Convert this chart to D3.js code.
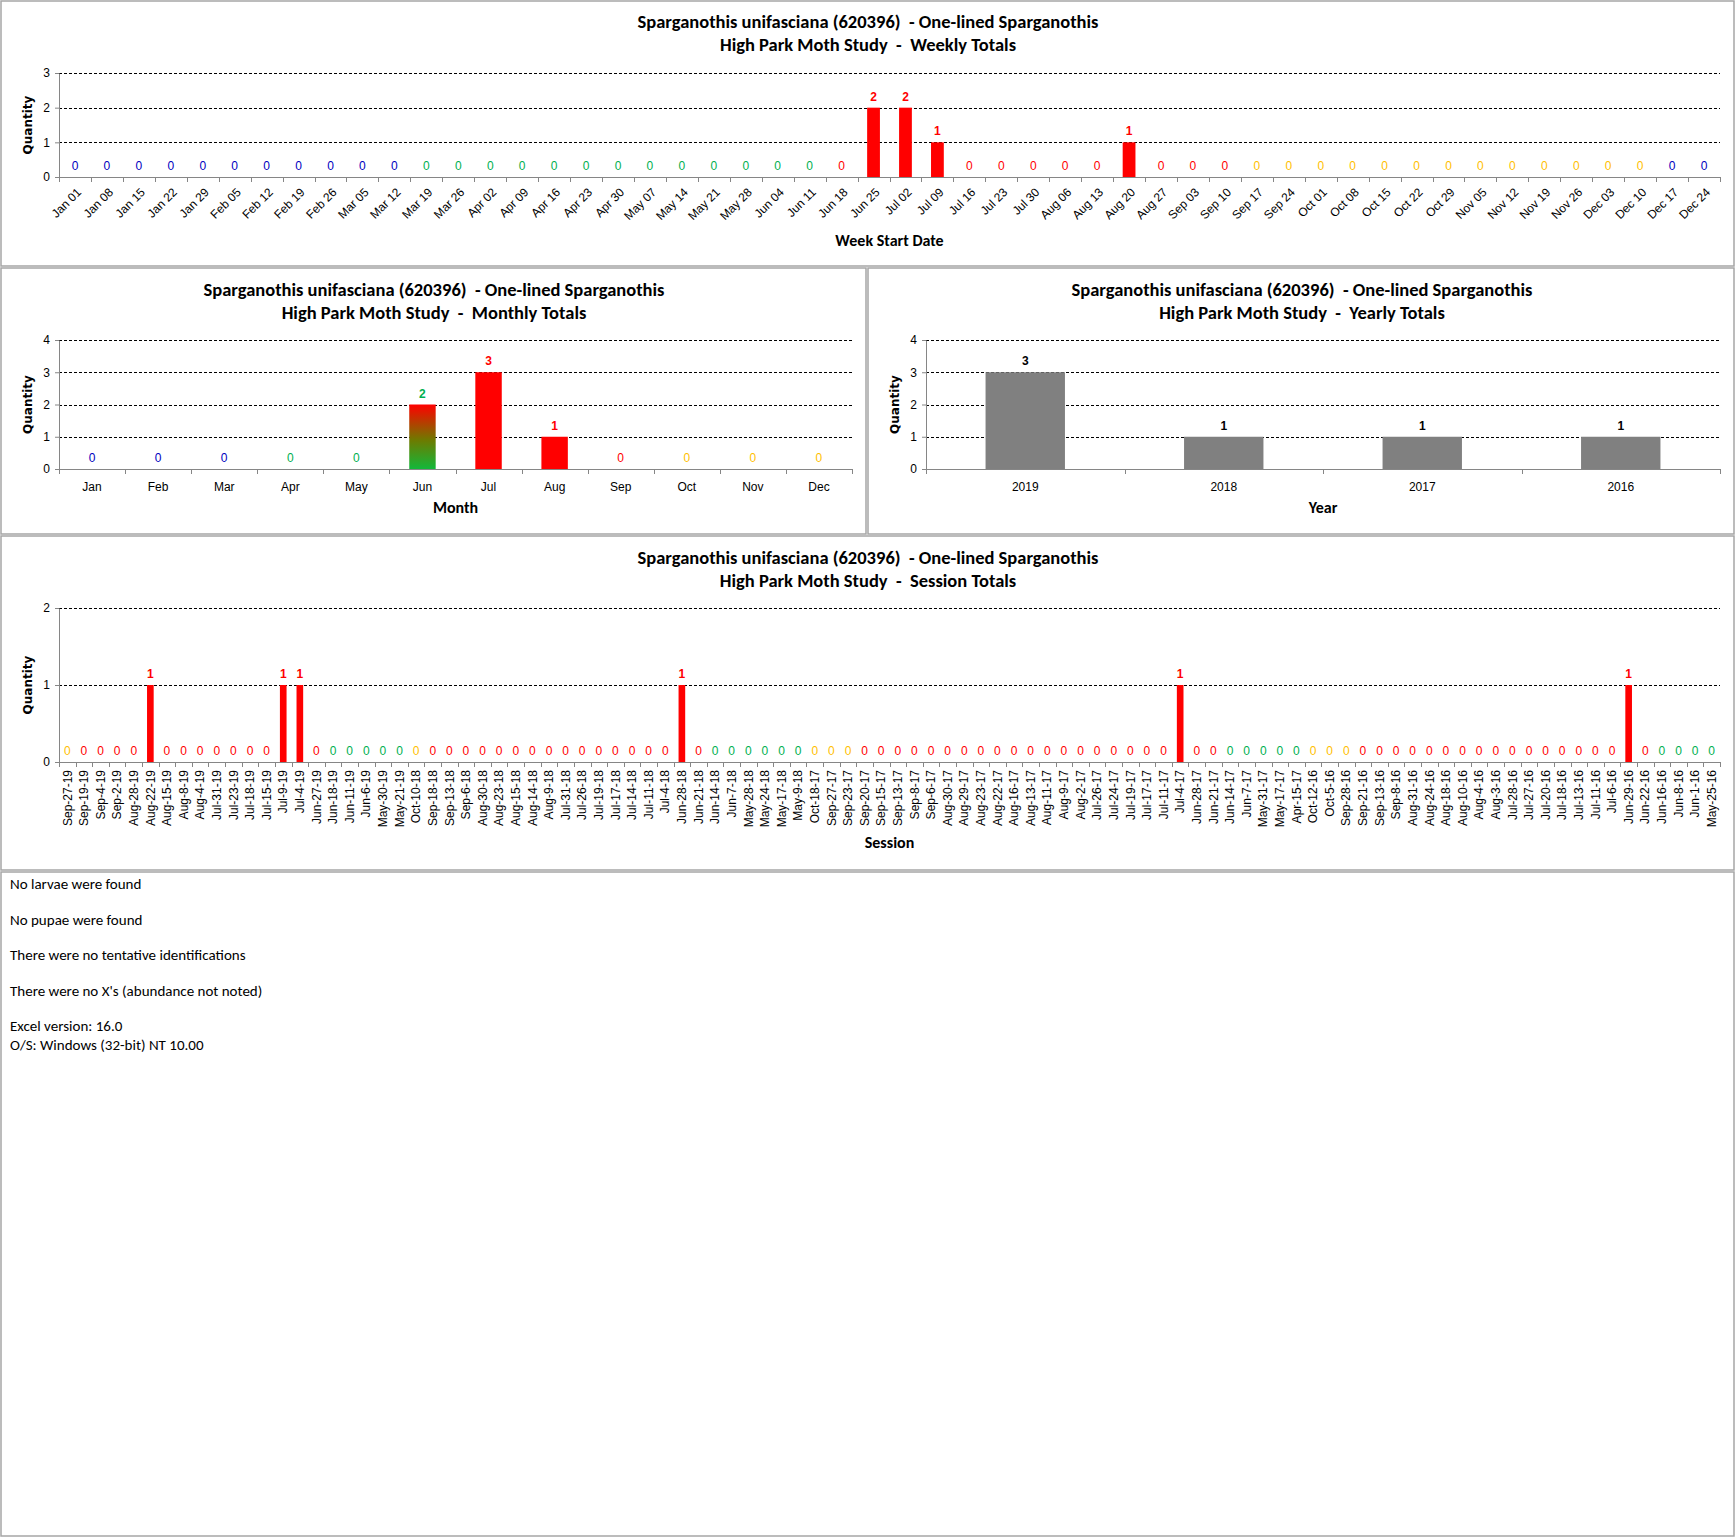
<!DOCTYPE html>
<html>
<head>
<meta charset="utf-8">
<script src="https://cdn.jsdelivr.net/npm/d3@7"></script>
<style>
  body { margin: 0; background: #fff; }
  text { font-family: "Liberation Sans", Arial, sans-serif; }
  .title, .axis-title, .note { font-family: Carlito, Lato, "Open Sans", sans-serif; white-space: pre; }
</style>
</head>
<body>
<div id="chart"></div>
<script>
// ---- data ----
var titleLine1 = "Sparganothis unifasciana (620396)  - One-lined Sparganothis";

var weekLabels = ["Jan 01","Jan 08","Jan 15","Jan 22","Jan 29","Feb 05","Feb 12","Feb 19","Feb 26",
    "Mar 05","Mar 12","Mar 19","Mar 26","Apr 02","Apr 09","Apr 16","Apr 23","Apr 30","May 07",
    "May 14","May 21","May 28","Jun 04","Jun 11","Jun 18","Jun 25","Jul 02","Jul 09","Jul 16",
    "Jul 23","Jul 30","Aug 06","Aug 13","Aug 20","Aug 27","Sep 03","Sep 10","Sep 17","Sep 24",
    "Oct 01","Oct 08","Oct 15","Oct 22","Oct 29","Nov 05","Nov 12","Nov 19","Nov 26","Dec 03",
    "Dec 10","Dec 17","Dec 24"];
var weekValues = [0,0,0,0,0,0,0,0,0,0,0,0,0,0,0,0,0,0,0,0,0,0,0,0,0,2,2,1,0,0,0,0,0,1,0,0,0,
    0,0,0,0,0,0,0,0,0,0,0,0,0,0,0];
// season of each week: w winter, p spring, s summer, f fall
var weekSeasons = "wwwwwwwwwww" + "ppppppppppppp" + "sssssssssssss" + "fffffffffffff" + "ww";

var monthLabels = ["Jan","Feb","Mar","Apr","May","Jun","Jul","Aug","Sep","Oct","Nov","Dec"];
var monthValues = [0,0,0,0,0,2,3,1,0,0,0,0];
var monthSeasons = ["w","w","w","p","p","ps","s","s","s","f","f","f"];

var yearLabels = ["2019","2018","2017","2016"];
var yearValues = [3,1,1,1];

var sessionLabels = [
    "Sep-27-19","Sep-19-19","Sep-4-19","Sep-2-19","Aug-28-19","Aug-22-19","Aug-15-19","Aug-8-19",
    "Aug-4-19","Jul-31-19","Jul-23-19","Jul-18-19","Jul-15-19","Jul-9-19","Jul-4-19","Jun-27-19",
    "Jun-18-19","Jun-11-19","Jun-6-19","May-30-19","May-21-19",
    "Oct-10-18","Sep-18-18","Sep-13-18","Sep-6-18","Aug-30-18","Aug-23-18","Aug-15-18","Aug-14-18",
    "Aug-9-18","Jul-31-18","Jul-26-18","Jul-19-18","Jul-17-18","Jul-14-18","Jul-11-18","Jul-4-18",
    "Jun-28-18","Jun-21-18","Jun-14-18","Jun-7-18","May-28-18","May-24-18","May-17-18","May-9-18",
    "Oct-18-17","Sep-27-17","Sep-23-17","Sep-20-17","Sep-15-17","Sep-13-17","Sep-8-17","Sep-6-17",
    "Aug-30-17","Aug-29-17","Aug-23-17","Aug-22-17","Aug-16-17","Aug-13-17","Aug-11-17","Aug-9-17",
    "Aug-2-17","Jul-26-17","Jul-24-17","Jul-19-17","Jul-17-17","Jul-11-17","Jul-4-17","Jun-28-17",
    "Jun-21-17","Jun-14-17","Jun-7-17","May-31-17","May-17-17","Apr-15-17",
    "Oct-12-16","Oct-5-16","Sep-28-16","Sep-21-16","Sep-13-16","Sep-8-16","Aug-31-16","Aug-24-16",
    "Aug-18-16","Aug-10-16","Aug-4-16","Aug-3-16","Jul-28-16","Jul-27-16","Jul-20-16","Jul-18-16",
    "Jul-13-16","Jul-11-16","Jul-6-16","Jun-29-16","Jun-22-16","Jun-16-16","Jun-8-16","Jun-1-16",
    "May-25-16"];
var sessionValues = [
    0,0,0,0,0,1,0,0,0,0,0,0,0,1,1,0,0,0,0,0,0,
    0,0,0,0,0,0,0,0,0,0,0,0,0,0,0,0,1,0,0,0,0,0,0,0,
    0,0,0,0,0,0,0,0,0,0,0,0,0,0,0,0,0,0,0,0,0,0,1,0,0,0,0,0,0,0,
    0,0,0,0,0,0,0,0,0,0,0,0,0,0,0,0,0,0,0,1,0,0,0,0,0];
var sessionSeasons = "f" + "sssssssssssssss" + "ppppp" +
    "f" + "sssssssssssssssss" + "pppppp" +
    "fff" + "ssssssssssssssssssssss" + "ppppp" +
    "fff" + "ssssssssssssssssss" + "pppp";

var notes = ["No larvae were found", "No pupae were found", "There were no tentative identifications",
    "There were no X's (abundance not noted)", "Excel version: 16.0", "O/S: Windows (32-bit) NT 10.00"];

// ---- colours ----
var labelColor = {w: "#0000c0", p: "#00b050", s: "#ff0000", f: "#ffc000", ps: "#00b050"};
var barColor = {s: "#ff0000", ps: "url(#junGrad)", k: "#808080"};

var svg = d3.select("#chart").append("svg")
    .attr("width", 1736)
    .attr("height", 1538);

// gradient used for June (spring into summer)
var grad = svg.append("defs").append("linearGradient")
    .attr("id", "junGrad").attr("x1", 0).attr("y1", 0).attr("x2", 0).attr("y2", 1);
grad.append("stop").attr("offset", "0%").attr("stop-color", "#ff0000");
grad.append("stop").attr("offset", "12%").attr("stop-color", "#e01a00");
grad.append("stop").attr("offset", "55%").attr("stop-color", "#6e7a00");
grad.append("stop").attr("offset", "100%").attr("stop-color", "#12b83a");

// panel frames
var panels = [[1, 1, 1733, 265], [1, 268, 865, 266], [868, 268, 866, 266], [1, 536, 1733, 334], [1, 872, 1733, 664]];
svg.selectAll("rect.panel").data(panels).enter().append("rect")
    .attr("class", "panel")
    .attr("x", d => d[0]).attr("y", d => d[1])
    .attr("width", d => d[2]).attr("height", d => d[3])
    .attr("fill", "none").attr("stroke", "#a6a6a6").attr("stroke-width", 1.5);

function drawChart(c) {
    var g = svg.append("g");

    var x = d3.scaleBand().domain(c.cats).range([c.x0, c.x1]);
    var y = d3.scaleLinear().domain([0, c.ymax]).range([c.y0, c.y1]);

    // titles
    [titleLine1, c.subtitle].forEach(function(t, i) {
        g.append("text")
            .attr("class", "title")
            .attr("x", c.cx)
            .attr("y", c.titleY + i * 23)
            .attr("text-anchor", "middle")
            .style("font-size", "18.5px")
            .style("font-weight", "bold")
            .text(t);
    });

    // dashed gridlines
    g.selectAll("line.grid").data(d3.range(1, c.ymax + 1)).enter().append("line")
        .attr("x1", c.x0).attr("x2", c.x1)
        .attr("y1", d => Math.round(y(d)) + 0.5).attr("y2", d => Math.round(y(d)) + 0.5)
        .attr("stroke", "#000").attr("stroke-dasharray", "3,2").attr("stroke-width", 1);

    // bars
    var bw = x.bandwidth() * 0.4;
    g.selectAll("rect.bar").data(c.values.map((v, i) => ({v: v, i: i})).filter(d => d.v > 0))
        .enter().append("rect")
        .attr("x", d => x(c.cats[d.i]) + (x.bandwidth() - bw) / 2)
        .attr("y", d => y(d.v))
        .attr("width", bw)
        .attr("height", d => y(0) - y(d.v))
        .attr("fill", d => barColor[c.seasons[d.i]]);

    // value labels
    g.selectAll("text.val").data(c.values).enter().append("text")
        .attr("x", (d, i) => x(c.cats[i]) + x.bandwidth() / 2)
        .attr("y", d => y(d) - 7)
        .attr("text-anchor", "middle")
        .style("font-size", "12px")
        .style("font-weight", d => d > 0 ? "bold" : "normal")
        .attr("fill", (d, i) => labelColor[c.seasons[i]] || "#000")
        .text(d => d);

    // y axis
    var ya = g.append("g")
        .attr("transform", "translate(" + c.x0 + ",0)")
        .call(d3.axisLeft(y).ticks(c.ymax).tickSize(4).tickSizeOuter(0).tickPadding(5));
    ya.selectAll("line, path").attr("stroke", "#868686");
    ya.selectAll("text").style("font-size", "12px").attr("fill", "#000");

    // x axis (labels centred, ticks at category boundaries)
    var xa = g.append("g")
        .attr("transform", "translate(0," + c.y0 + ")")
        .call(d3.axisBottom(x).tickSize(0).tickSizeOuter(0));
    xa.select(".domain").attr("stroke", "#868686");
    var lbl = xa.selectAll("text").style("font-size", "12px").attr("fill", "#000");
    if (c.rotate === 45) {
        lbl.attr("x", 0).attr("y", 0).attr("dy", "0.35em")
            .attr("transform", "translate(4,13) rotate(-45)")
            .attr("text-anchor", "end");
    } else if (c.rotate === 90) {
        lbl.attr("x", 0).attr("y", 0).attr("dy", "0.35em")
            .attr("transform", "translate(0,8) rotate(-90)")
            .attr("text-anchor", "end");
    } else {
        lbl.attr("y", 13).attr("dy", "0.71em");
    }
    var bounds = c.cats.map(d => x(d)).concat([c.x1]);
    xa.selectAll("line.bound").data(bounds).enter().append("line")
        .attr("x1", d => Math.round(d) + 0.5).attr("x2", d => Math.round(d) + 0.5)
        .attr("y1", 0).attr("y2", 5)
        .attr("stroke", "#868686");

    // axis titles
    g.append("text")
        .attr("class", "axis-title")
        .attr("x", (c.x0 + c.x1) / 2)
        .attr("y", c.xTitleY)
        .attr("text-anchor", "middle")
        .style("font-size", "16px")
        .style("font-weight", "bold")
        .text(c.xTitle);

    g.append("text")
        .attr("transform", "translate(" + (c.x0 - 27) + "," + ((c.y0 + c.y1) / 2) + ") rotate(-90)")
        .attr("text-anchor", "middle")
        .style("font-family", "'DejaVu Sans', Verdana, sans-serif")
        .style("font-size", "12px")
        .style("font-weight", "bold")
        .text("Quantity");
}

drawChart({cats: weekLabels, values: weekValues, seasons: weekSeasons, ymax: 3,
    x0: 59, x1: 1720, y0: 177, y1: 73, cx: 868, titleY: 28,
    subtitle: "High Park Moth Study  -  Weekly Totals", rotate: 45,
    xTitle: "Week Start Date", xTitleY: 246});

drawChart({cats: monthLabels, values: monthValues, seasons: monthSeasons, ymax: 4,
    x0: 59, x1: 852, y0: 469, y1: 340, cx: 434, titleY: 296,
    subtitle: "High Park Moth Study  -  Monthly Totals", rotate: 0,
    xTitle: "Month", xTitleY: 513});

drawChart({cats: yearLabels, values: yearValues, seasons: ["k","k","k","k"], ymax: 4,
    x0: 926, x1: 1720, y0: 469, y1: 340, cx: 1302, titleY: 296,
    subtitle: "High Park Moth Study  -  Yearly Totals", rotate: 0,
    xTitle: "Year", xTitleY: 513});

drawChart({cats: sessionLabels, values: sessionValues, seasons: sessionSeasons, ymax: 2,
    x0: 59, x1: 1720, y0: 762, y1: 608, cx: 868, titleY: 564,
    subtitle: "High Park Moth Study  -  Session Totals", rotate: 90,
    xTitle: "Session", xTitleY: 848});

// notes below the charts
var noteY = [889, 925, 960, 996, 1031, 1050];
svg.selectAll("text.note").data(notes).enter().append("text")
    .attr("class", "note")
    .attr("x", 10)
    .attr("y", (d, i) => noteY[i])
    .style("font-size", "15px")
    .text(d => d);
</script>
</body>
</html>
